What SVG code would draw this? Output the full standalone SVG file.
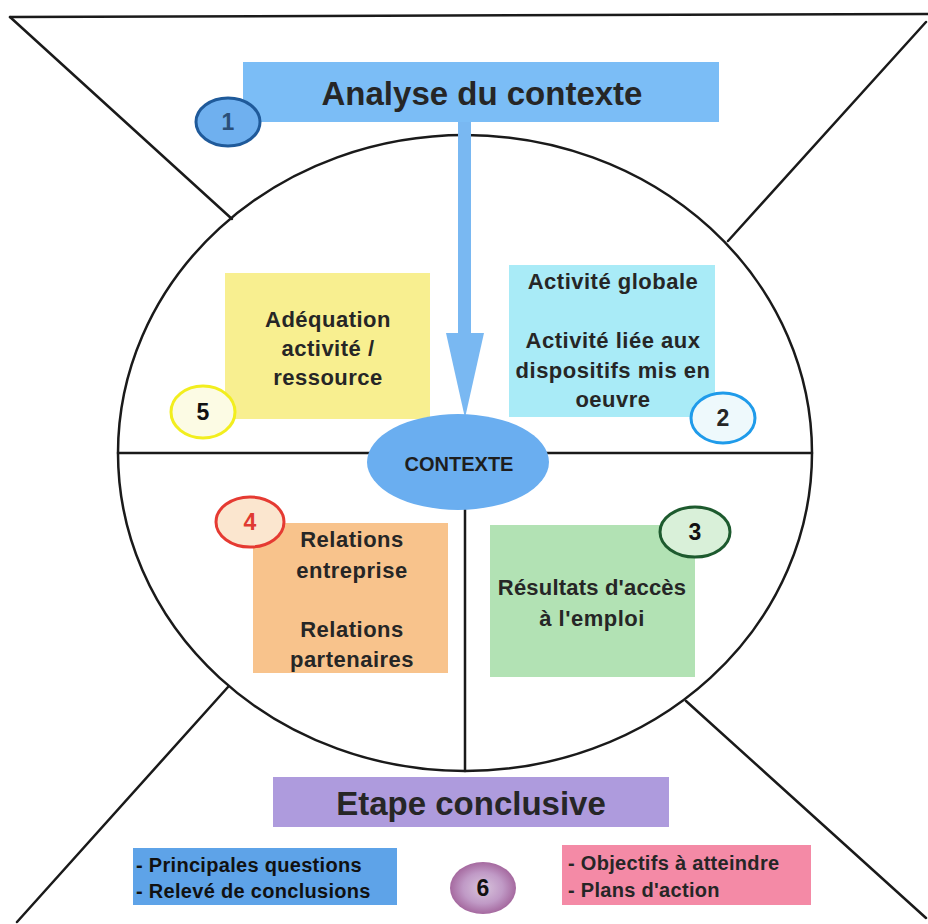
<svg xmlns="http://www.w3.org/2000/svg" width="928" height="924" viewBox="0 0 928 924">
<defs>
<style>
.ln{stroke:#1a1a1a;stroke-width:2.5;fill:none;stroke-linecap:round}
.t{font-family:"Liberation Sans",Arial,sans-serif;font-weight:bold;fill:#262626;text-anchor:middle}
.b22{font-size:22px;letter-spacing:0.5px}
.b20{font-size:20px;letter-spacing:0.3px;text-anchor:start}
.h{font-size:33px}
.n{font-size:23px}
.badge{stroke-width:3}
</style>
<radialGradient id="g6" cx="0.5" cy="0.5" r="0.5">
<stop offset="0" stop-color="#d8c4dc"/>
<stop offset="0.6" stop-color="#c09ac6"/>
<stop offset="1" stop-color="#a5699f"/>
</radialGradient>
</defs>
<rect width="928" height="924" fill="#ffffff"/>
<g id="frame">
<line class="ln" x1="10" y1="17" x2="928" y2="14"/>
<line class="ln" x1="10" y1="17" x2="232" y2="219"/>
<line class="ln" x1="926" y1="22" x2="728" y2="241"/>
<line class="ln" x1="228" y1="687" x2="17" y2="922"/>
<line class="ln" x1="686" y1="701" x2="926" y2="918"/>
<ellipse class="ln" cx="465" cy="453" rx="347" ry="318" stroke-width="2"/>
<line class="ln" x1="118" y1="453" x2="812" y2="453" stroke-width="2"/>
<line class="ln" x1="465" y1="505" x2="465" y2="771" stroke-width="2"/>
</g>
<g id="analyse">
<rect x="243" y="62" width="476" height="60" fill="#7bbdf6"/>
<text class="t h" x="482" y="105">Analyse du contexte</text>
</g>
<g id="badge1">
<ellipse class="badge" cx="228" cy="122" rx="32" ry="24" fill="#6fb0ef" stroke="#1f5a9a"/>
<text class="t n" x="228" y="130" style="fill:#2a4f78">1</text>
</g>
<g id="connectors">
<rect x="458" y="122" width="13" height="213" fill="#79b8f2"/>
<polygon points="446,333 484,333 465,418" fill="#79b8f2"/>
</g>
<g id="node5">
<rect x="225" y="273" width="205" height="146" fill="#f8ef90"/>
<text class="t b22" x="328" y="327">Adéquation</text>
<text class="t b22" x="328" y="356">activité /</text>
<text class="t b22" x="328" y="385">ressource</text>
</g>
<g id="badge5">
<ellipse class="badge" cx="203" cy="412" rx="32" ry="26" fill="#fcfbe4" stroke="#f2ee1e"/>
<text class="t n" x="203" y="420" style="fill:#111">5</text>
</g>
<g id="node2">
<rect x="509" y="265" width="206" height="152" fill="#a9ebf7"/>
<text class="t b22" x="613" y="289">Activité globale</text>
<text class="t b22" x="613" y="348">Activité liée aux</text>
<text class="t b22" x="613" y="378">dispositifs mis en</text>
<text class="t b22" x="613" y="407">oeuvre</text>
</g>
<g id="badge2">
<ellipse class="badge" cx="723" cy="418" rx="32" ry="25" fill="#eef9fc" stroke="#1f9bea"/>
<text class="t n" x="723" y="426">2</text>
</g>
<g id="contexte">
<ellipse cx="458" cy="462" rx="91" ry="48" fill="#6aaef0"/>
<text class="t" x="459" y="471" font-size="20" style="fill:#1e1e1e">CONTEXTE</text>
</g>
<g id="node4">
<rect x="253" y="523" width="195" height="150" fill="#f8c38c"/>
<text class="t b22" x="352" y="547">Relations</text>
<text class="t b22" x="352" y="578">entreprise</text>
<text class="t b22" x="352" y="637">Relations</text>
<text class="t b22" x="352" y="667">partenaires</text>
</g>
<g id="badge4">
<ellipse class="badge" cx="250" cy="522" rx="34" ry="25" fill="#fbe6cf" stroke="#e53a32"/>
<text class="t n" x="250" y="530" style="fill:#e03a32">4</text>
</g>
<g id="node3">
<rect x="490" y="525" width="205" height="152" fill="#b2e2b4"/>
<text class="t b22" x="592" y="595" style="letter-spacing:0.2px">Résultats d'accès</text>
<text class="t b22" x="592" y="626">à l'emploi</text>
</g>
<g id="badge3">
<ellipse class="badge" cx="695" cy="532" rx="35" ry="25" fill="#d9f0d9" stroke="#1d5a2e"/>
<text class="t n" x="695" y="540" style="fill:#111">3</text>
</g>
<g id="etape">
<rect x="273" y="777" width="396" height="50" fill="#ae9bdd"/>
<text class="t h" x="471" y="815">Etape conclusive</text>
</g>
<g id="questions">
<rect x="133" y="848" width="264" height="57" fill="#5ea3e8"/>
<text class="t b20" x="136" y="872" style="fill:#111">- Principales questions</text>
<text class="t b20" x="136" y="898" style="fill:#111">- Relevé de conclusions</text>
</g>
<g id="badge6">
<ellipse cx="483" cy="888" rx="33" ry="26" fill="url(#g6)"/>
<text class="t n" x="483" y="896" style="fill:#111">6</text>
</g>
<g id="objectifs">
<rect x="562" y="845" width="249" height="60" fill="#f48aa6"/>
<text class="t b20" x="568" y="870">- Objectifs à atteindre</text>
<text class="t b20" x="568" y="897">- Plans d'action</text>
</g>
</svg>
